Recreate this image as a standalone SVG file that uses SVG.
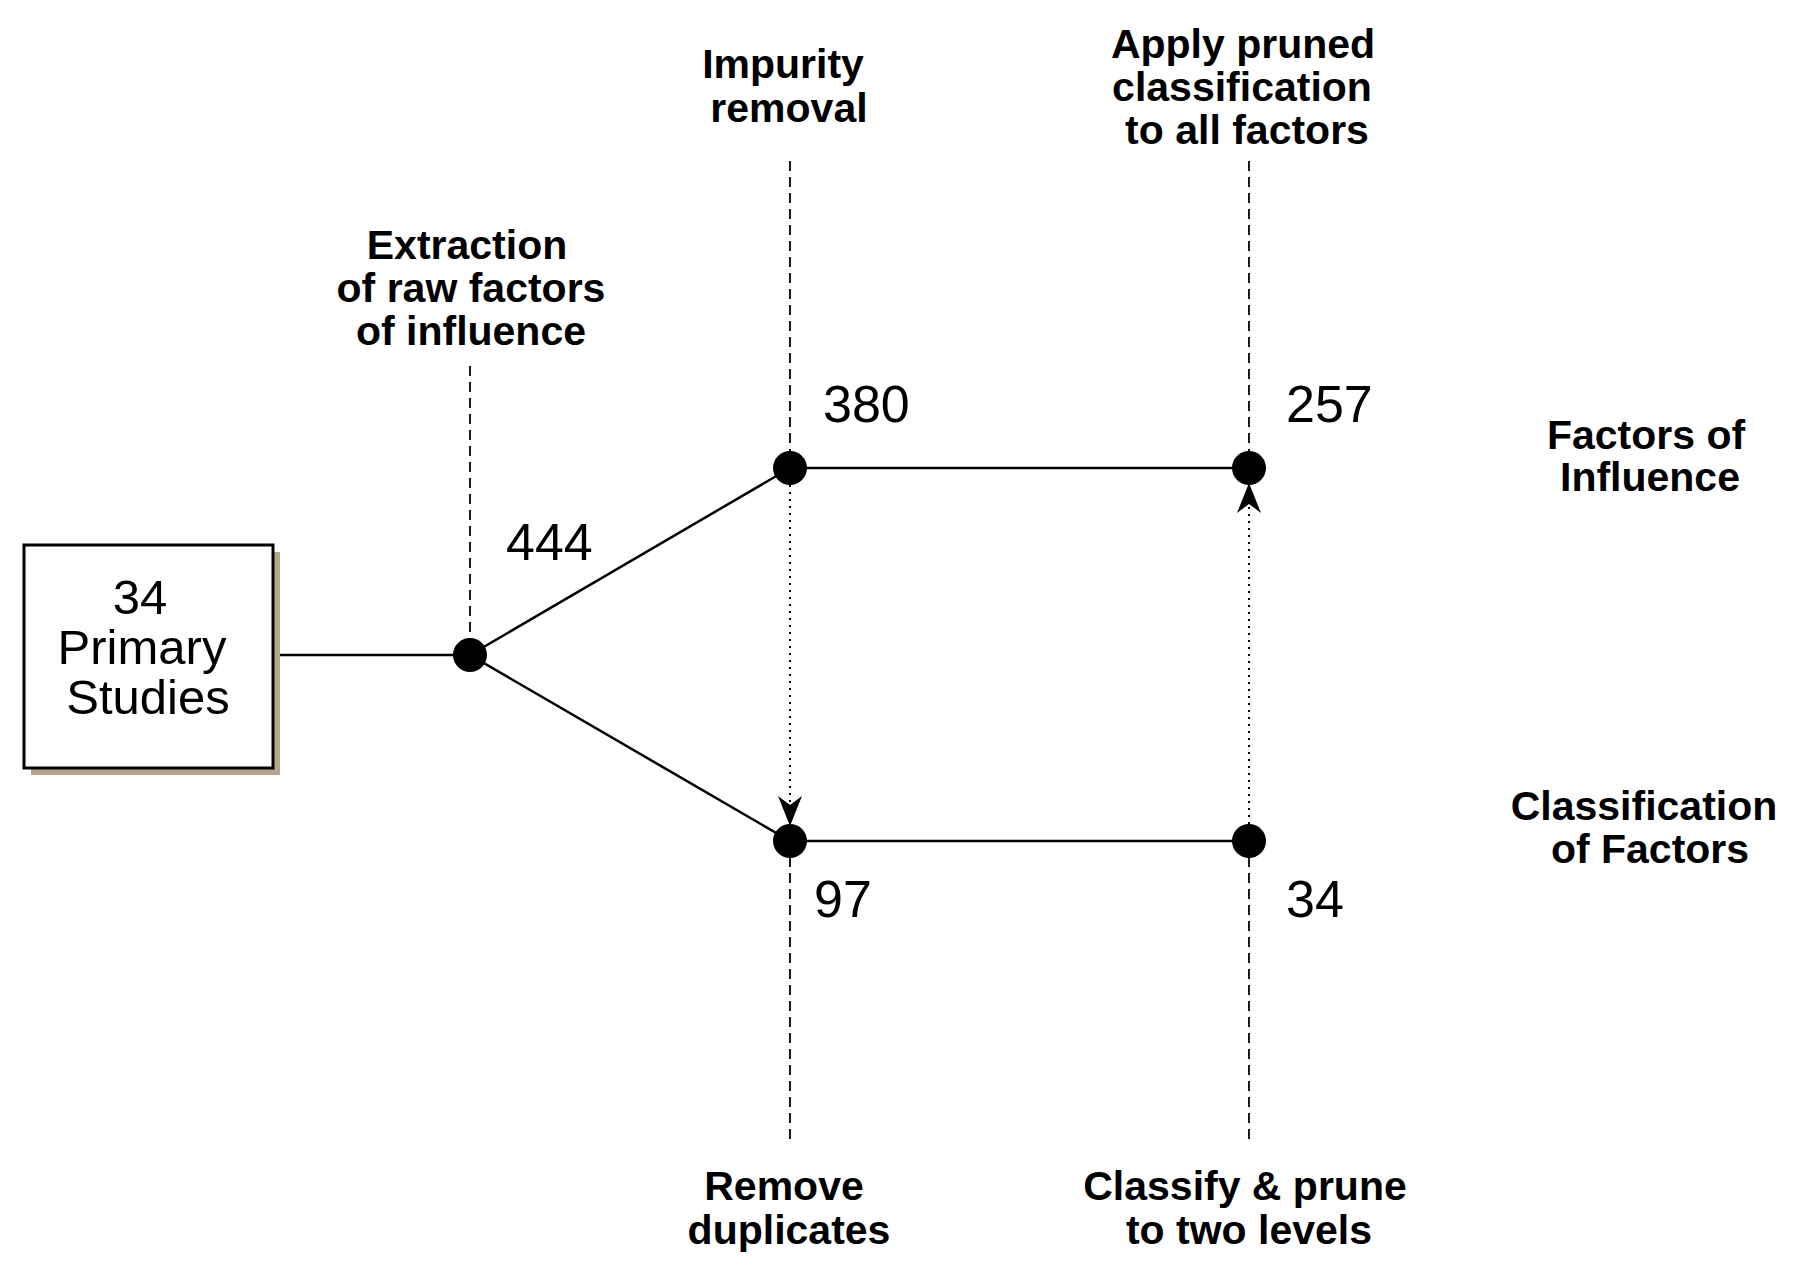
<svg xmlns="http://www.w3.org/2000/svg" width="1805" height="1277" viewBox="0 0 1805 1277">
<style>
.b{font-family:"Liberation Sans",Arial,sans-serif;font-weight:bold;font-size:41px;text-anchor:middle;fill:#000}
.n{font-family:"Liberation Sans",Arial,sans-serif;font-size:52px;fill:#000}
.p{font-family:"Liberation Sans",Arial,sans-serif;font-size:49px;fill:#000;text-anchor:middle}
.s{stroke:#000;stroke-width:2.5;fill:none}
.d{stroke:#000;stroke-width:1.8;stroke-dasharray:10,6;fill:none}
.o{stroke:#000;stroke-width:2;stroke-dasharray:2,5;fill:none}
</style>
<defs>
<marker id="ah" viewBox="0 0 30 24" refX="28" refY="12" markerWidth="30" markerHeight="24" markerUnits="userSpaceOnUse" orient="auto">
<path d="M0,0 L30,12 L0,24 L9,12 Z" fill="#000"/>
</marker>
</defs>
<g id="connectors">
<line class="s" x1="273" y1="655" x2="470" y2="655"/>
<line class="s" x1="470" y1="655" x2="790" y2="468"/>
<line class="s" x1="470" y1="655" x2="790" y2="841"/>
<line class="s" x1="790" y1="468" x2="1249" y2="468"/>
<line class="s" x1="790" y1="841" x2="1249" y2="841"/>
<line class="d" x1="470" y1="366" x2="470" y2="655"/>
<line class="d" x1="790" y1="161" x2="790" y2="468"/>
<line class="d" x1="790" y1="841" x2="790" y2="1145"/>
<line class="d" x1="1249" y1="161" x2="1249" y2="468"/>
<line class="d" x1="1249" y1="841" x2="1249" y2="1145"/>
<line class="o" x1="790" y1="478" x2="790" y2="824" marker-end="url(#ah)"/>
<line class="o" x1="1249" y1="831" x2="1249" y2="485" marker-end="url(#ah)"/>
</g>
<g id="studies">
<rect x="31" y="552" width="249" height="223" fill="#b5a58f"/>
<rect x="24" y="545" width="249" height="223" fill="#fff" stroke="#000" stroke-width="3"/>
<text class="p" x="140" y="614">34</text>
<text class="p" x="142" y="664">Primary</text>
<text class="p" x="148" y="714">Studies</text>
</g>
<g id="n1"><circle cx="470" cy="655" r="17"/><text class="n" x="506" y="560">444</text></g>
<g id="n2"><circle cx="790" cy="468" r="17"/><text class="n" x="823" y="422">380</text></g>
<g id="n3"><circle cx="1249" cy="468" r="17"/><text class="n" x="1286" y="422">257</text></g>
<g id="n4"><circle cx="790" cy="841" r="17"/><text class="n" x="814" y="917">97</text></g>
<g id="n5"><circle cx="1249" cy="841" r="17"/><text class="n" x="1286" y="917">34</text></g>
<g id="l-extraction"><text class="b" x="467" y="259">Extraction</text><text class="b" x="471" y="302">of raw factors</text><text class="b" x="471" y="345">of influence</text></g>
<g id="l-impurity"><text class="b" x="783" y="78">Impurity</text><text class="b" x="789" y="122">removal</text></g>
<g id="l-apply"><text class="b" x="1243" y="58">Apply pruned</text><text class="b" x="1242" y="101">classification</text><text class="b" x="1247" y="144">to all factors</text></g>
<g id="l-factors"><text class="b" x="1646" y="449">Factors of</text><text class="b" x="1650" y="491">Influence</text></g>
<g id="l-classification"><text class="b" x="1644" y="820">Classification</text><text class="b" x="1650" y="863">of Factors</text></g>
<g id="l-remove"><text class="b" x="784" y="1200">Remove</text><text class="b" x="789" y="1244">duplicates</text></g>
<g id="l-classify"><text class="b" x="1245" y="1200">Classify &amp; prune</text><text class="b" x="1249" y="1244">to two levels</text></g>
</svg>
